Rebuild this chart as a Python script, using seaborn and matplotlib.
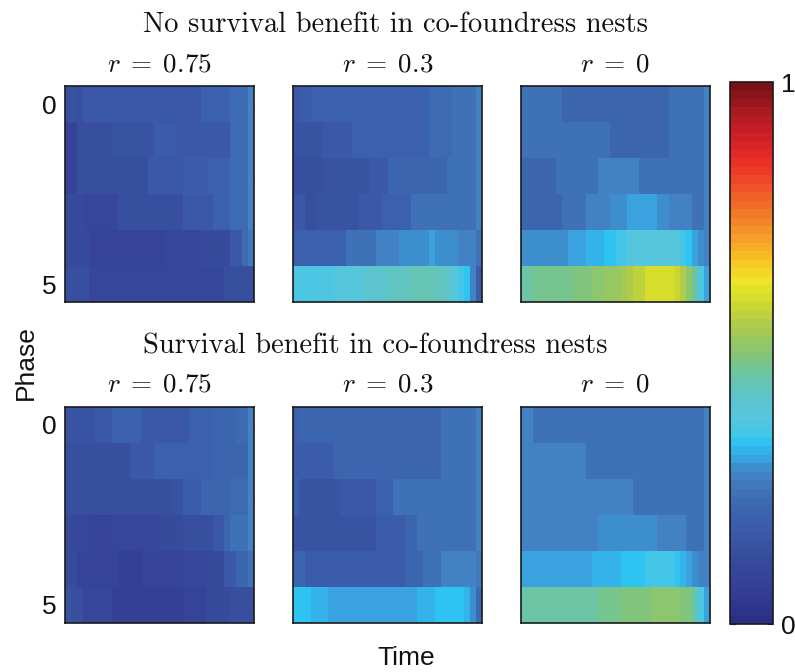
import numpy as np
import matplotlib
matplotlib.use("Agg")
import matplotlib.pyplot as plt
from matplotlib.colors import LinearSegmentedColormap, Normalize
from matplotlib.cm import ScalarMappable
import seaborn as sns

# ---------------------------------------------------------------------------
# Fraction of nests in each phase (rows 0..5) over time (32 time bins)
# ---------------------------------------------------------------------------
relatedness_labels = [r"$r\;=\;0.75$", r"$r\;=\;0.3$", r"$r\;=\;0$"]
scenario_titles = ["No survival benefit in co-foundress nests",
                   "Survival benefit in co-foundress nests"]

no_benefit_r075 = [
    [0.14,0.15,0.14,0.16,0.16,0.16,0.16,0.16,0.16,0.16,0.16,0.17,0.17,0.17,0.17,0.17,0.17,0.17,0.17,0.17,0.17,0.17,0.17,0.19,0.19,0.19,0.19,0.19,0.23,0.23,0.23,0.28],
    [0.09,0.09,0.13,0.13,0.13,0.13,0.13,0.13,0.15,0.15,0.15,0.15,0.15,0.15,0.15,0.18,0.18,0.18,0.18,0.16,0.16,0.16,0.17,0.17,0.17,0.17,0.17,0.17,0.23,0.23,0.23,0.27],
    [0.09,0.09,0.13,0.13,0.13,0.13,0.13,0.13,0.13,0.13,0.14,0.14,0.14,0.14,0.16,0.16,0.16,0.16,0.16,0.16,0.18,0.18,0.18,0.18,0.19,0.19,0.19,0.19,0.22,0.22,0.22,0.27],
    [0.11,0.11,0.11,0.10,0.10,0.10,0.10,0.10,0.10,0.13,0.13,0.13,0.13,0.13,0.13,0.13,0.14,0.14,0.14,0.14,0.16,0.16,0.16,0.16,0.16,0.19,0.19,0.19,0.22,0.22,0.22,0.27],
    [0.11,0.11,0.11,0.11,0.09,0.09,0.09,0.09,0.09,0.09,0.09,0.09,0.09,0.09,0.09,0.09,0.09,0.10,0.10,0.10,0.10,0.10,0.10,0.12,0.12,0.12,0.12,0.12,0.17,0.17,0.22,0.26],
    [0.13,0.13,0.13,0.13,0.10,0.10,0.10,0.10,0.10,0.10,0.10,0.10,0.10,0.10,0.10,0.10,0.10,0.10,0.10,0.10,0.10,0.10,0.10,0.10,0.10,0.10,0.10,0.14,0.14,0.14,0.14,0.14],
]

no_benefit_r03 = [
    [0.17,0.18,0.18,0.19,0.19,0.19,0.19,0.19,0.19,0.19,0.19,0.19,0.19,0.19,0.19,0.19,0.19,0.19,0.19,0.19,0.19,0.19,0.19,0.22,0.22,0.22,0.22,0.24,0.24,0.24,0.24,0.27],
    [0.15,0.15,0.15,0.15,0.15,0.17,0.17,0.17,0.17,0.17,0.19,0.19,0.19,0.19,0.19,0.19,0.19,0.19,0.19,0.19,0.19,0.19,0.19,0.22,0.22,0.22,0.22,0.24,0.24,0.24,0.24,0.27],
    [0.14,0.14,0.14,0.14,0.14,0.15,0.15,0.15,0.15,0.15,0.15,0.15,0.15,0.17,0.17,0.17,0.21,0.21,0.21,0.21,0.21,0.21,0.21,0.21,0.21,0.21,0.24,0.24,0.24,0.24,0.24,0.27],
    [0.16,0.16,0.14,0.14,0.15,0.15,0.15,0.15,0.15,0.15,0.15,0.17,0.17,0.17,0.17,0.20,0.20,0.20,0.20,0.20,0.24,0.24,0.24,0.24,0.24,0.24,0.24,0.24,0.24,0.24,0.24,0.27],
    [0.20,0.20,0.20,0.20,0.20,0.20,0.20,0.20,0.20,0.24,0.24,0.24,0.24,0.24,0.27,0.27,0.27,0.27,0.29,0.29,0.29,0.29,0.29,0.305,0.29,0.29,0.29,0.29,0.27,0.27,0.27,0.24],
    [0.37,0.37,0.37,0.37,0.37,0.37,0.37,0.39,0.39,0.39,0.39,0.39,0.41,0.41,0.41,0.41,0.43,0.43,0.43,0.43,0.45,0.45,0.45,0.45,0.43,0.43,0.41,0.38,0.355,0.335,0.28,0.18],
]

no_benefit_r0 = [
    [0.24,0.24,0.24,0.24,0.24,0.24,0.24,0.21,0.21,0.21,0.21,0.21,0.21,0.21,0.21,0.21,0.21,0.21,0.21,0.21,0.21,0.21,0.21,0.21,0.21,0.24,0.24,0.24,0.24,0.24,0.24,0.27],
    [0.235,0.235,0.235,0.235,0.235,0.235,0.235,0.235,0.235,0.235,0.235,0.235,0.235,0.235,0.235,0.21,0.21,0.21,0.21,0.21,0.21,0.21,0.21,0.21,0.21,0.24,0.24,0.24,0.24,0.24,0.24,0.27],
    [0.215,0.215,0.215,0.215,0.215,0.215,0.235,0.235,0.235,0.235,0.235,0.235,0.235,0.27,0.27,0.27,0.27,0.27,0.27,0.27,0.235,0.235,0.235,0.235,0.235,0.235,0.235,0.235,0.235,0.235,0.235,0.27],
    [0.215,0.215,0.215,0.215,0.215,0.215,0.215,0.235,0.235,0.235,0.235,0.27,0.27,0.27,0.27,0.285,0.285,0.285,0.305,0.305,0.305,0.305,0.305,0.285,0.285,0.27,0.27,0.27,0.27,0.235,0.235,0.27],
    [0.285,0.285,0.285,0.285,0.285,0.285,0.285,0.285,0.305,0.305,0.305,0.318,0.318,0.318,0.335,0.335,0.355,0.355,0.38,0.38,0.38,0.38,0.38,0.38,0.38,0.38,0.38,0.355,0.335,0.305,0.285,0.27],
    [0.46,0.465,0.47,0.47,0.47,0.47,0.48,0.48,0.48,0.49,0.49,0.49,0.50,0.50,0.52,0.52,0.53,0.545,0.555,0.565,0.575,0.60,0.60,0.60,0.60,0.60,0.58,0.55,0.50,0.46,0.36,0.30],
]

benefit_r075 = [
    [0.15,0.15,0.15,0.15,0.15,0.16,0.16,0.16,0.19,0.19,0.19,0.19,0.19,0.17,0.17,0.17,0.17,0.17,0.17,0.17,0.17,0.19,0.19,0.19,0.19,0.21,0.21,0.21,0.21,0.23,0.23,0.28],
    [0.13,0.13,0.13,0.13,0.13,0.14,0.14,0.14,0.14,0.14,0.14,0.16,0.16,0.16,0.16,0.195,0.195,0.195,0.195,0.195,0.195,0.195,0.195,0.195,0.195,0.215,0.215,0.215,0.215,0.215,0.215,0.27],
    [0.13,0.13,0.13,0.13,0.13,0.13,0.13,0.13,0.13,0.13,0.13,0.13,0.13,0.14,0.14,0.14,0.14,0.14,0.155,0.155,0.175,0.175,0.175,0.205,0.205,0.205,0.205,0.205,0.23,0.23,0.23,0.27],
    [0.12,0.095,0.095,0.095,0.085,0.085,0.085,0.085,0.10,0.10,0.10,0.10,0.10,0.10,0.10,0.10,0.11,0.11,0.11,0.11,0.14,0.14,0.14,0.14,0.14,0.165,0.165,0.205,0.24,0.24,0.24,0.27],
    [0.11,0.11,0.09,0.09,0.09,0.09,0.09,0.09,0.09,0.07,0.07,0.07,0.07,0.09,0.09,0.09,0.09,0.09,0.09,0.09,0.10,0.10,0.10,0.10,0.115,0.115,0.115,0.16,0.16,0.21,0.21,0.24],
    [0.15,0.13,0.13,0.10,0.10,0.10,0.10,0.10,0.07,0.07,0.07,0.07,0.07,0.07,0.07,0.07,0.07,0.07,0.07,0.07,0.09,0.09,0.09,0.09,0.11,0.11,0.11,0.11,0.14,0.14,0.14,0.14],
]

benefit_r03 = [
    [0.19,0.21,0.21,0.21,0.21,0.21,0.21,0.21,0.21,0.21,0.21,0.21,0.21,0.21,0.21,0.21,0.21,0.21,0.21,0.21,0.21,0.21,0.21,0.21,0.21,0.24,0.24,0.24,0.24,0.24,0.24,0.27],
    [0.18,0.18,0.18,0.18,0.18,0.18,0.18,0.21,0.21,0.21,0.21,0.21,0.21,0.21,0.21,0.21,0.21,0.21,0.21,0.21,0.21,0.21,0.21,0.21,0.21,0.24,0.24,0.24,0.24,0.24,0.24,0.27],
    [0.19,0.15,0.15,0.15,0.15,0.15,0.15,0.15,0.17,0.17,0.17,0.17,0.17,0.17,0.195,0.195,0.195,0.24,0.24,0.24,0.24,0.24,0.24,0.24,0.24,0.24,0.24,0.24,0.24,0.24,0.24,0.27],
    [0.15,0.15,0.15,0.15,0.15,0.15,0.15,0.15,0.15,0.15,0.15,0.15,0.15,0.15,0.175,0.175,0.175,0.175,0.175,0.205,0.205,0.235,0.235,0.235,0.235,0.235,0.235,0.235,0.235,0.235,0.235,0.27],
    [0.205,0.205,0.175,0.175,0.175,0.175,0.175,0.175,0.175,0.175,0.175,0.175,0.175,0.175,0.175,0.175,0.175,0.175,0.175,0.21,0.21,0.21,0.24,0.24,0.24,0.27,0.27,0.27,0.27,0.27,0.27,0.25],
    [0.34,0.335,0.335,0.318,0.318,0.318,0.305,0.305,0.305,0.305,0.305,0.305,0.305,0.305,0.305,0.305,0.305,0.305,0.305,0.305,0.305,0.318,0.318,0.318,0.335,0.335,0.335,0.335,0.335,0.318,0.29,0.22],
]

benefit_r0 = [
    [0.27,0.27,0.235,0.235,0.235,0.235,0.235,0.235,0.235,0.235,0.235,0.235,0.235,0.235,0.235,0.235,0.235,0.235,0.235,0.235,0.235,0.235,0.235,0.235,0.235,0.235,0.235,0.235,0.235,0.235,0.235,0.27],
    [0.27,0.27,0.27,0.27,0.27,0.27,0.27,0.27,0.27,0.27,0.27,0.235,0.235,0.235,0.235,0.235,0.235,0.235,0.235,0.235,0.235,0.235,0.235,0.235,0.235,0.235,0.235,0.235,0.235,0.235,0.235,0.27],
    [0.27,0.27,0.27,0.27,0.27,0.27,0.27,0.27,0.27,0.27,0.27,0.27,0.27,0.27,0.27,0.27,0.27,0.27,0.27,0.235,0.235,0.235,0.235,0.235,0.235,0.235,0.235,0.235,0.235,0.235,0.235,0.27],
    [0.27,0.27,0.27,0.27,0.27,0.27,0.27,0.27,0.27,0.27,0.27,0.27,0.27,0.285,0.285,0.285,0.285,0.285,0.285,0.285,0.285,0.285,0.285,0.27,0.27,0.27,0.27,0.27,0.235,0.235,0.235,0.27],
    [0.305,0.305,0.305,0.305,0.305,0.305,0.305,0.305,0.305,0.305,0.305,0.305,0.318,0.318,0.318,0.318,0.318,0.335,0.335,0.335,0.335,0.355,0.355,0.355,0.355,0.355,0.34,0.318,0.305,0.285,0.27,0.27],
    [0.465,0.465,0.465,0.465,0.465,0.465,0.465,0.465,0.465,0.465,0.465,0.465,0.465,0.47,0.47,0.47,0.47,0.485,0.485,0.485,0.495,0.495,0.515,0.515,0.515,0.515,0.515,0.49,0.49,0.45,0.37,0.31],
]

panels = [[no_benefit_r075, no_benefit_r03, no_benefit_r0],
          [benefit_r075, benefit_r03, benefit_r0]]

# ---------------------------------------------------------------------------
# 64-level colour map, dark blue (0) through cyan, green, yellow to dark red (1)
# ---------------------------------------------------------------------------
cmap_nodes = [
    (0.000, "#2c2e86"), (0.050, "#333d93"), (0.090, "#36459a"),
    (0.130, "#3850a0"), (0.160, "#3a58a7"), (0.190, "#3b60ad"),
    (0.215, "#3c68b1"), (0.240, "#3f72b8"), (0.268, "#4380c2"),
    (0.286, "#3c8ecd"), (0.302, "#3aa3de"), (0.318, "#33b4ea"),
    (0.333, "#2ec4f1"), (0.349, "#43c6e8"), (0.381, "#55c6dc"),
    (0.420, "#5ec4c8"), (0.460, "#6bc4a4"), (0.490, "#80c57e"),
    (0.520, "#94c663"), (0.555, "#b0cc4a"), (0.600, "#d4dc2a"),
    (0.635, "#eee52a"), (0.670, "#f9c624"), (0.710, "#f7a32a"),
    (0.750, "#f4812a"), (0.800, "#ef5b29"), (0.850, "#ec3327"),
    (0.900, "#d42027"), (0.950, "#aa1b22"), (1.000, "#7a1115"),
]
cmap = LinearSegmentedColormap.from_list("phase_map", cmap_nodes, N=64)

sns.set_theme(style="white")
plt.rcParams["font.family"] = ["Liberation Sans", "DejaVu Sans"]
plt.rcParams["mathtext.fontset"] = "cm"

W, H = 795, 672
fig = plt.figure(figsize=(W / 100, H / 100), dpi=100)
fig.patch.set_facecolor("white")


def px_axes(x0, y0, w, h):
    return fig.add_axes([x0 / W, 1 - (y0 + h) / H, w / W, h / H])


col_left = [65, 293, 521]
row_top = [86, 407]
panel_w, panel_h = 189, 216
edge = "#1a1a1a"

for i, row_panels in enumerate(panels):
    for j, values in enumerate(row_panels):
        ax = px_axes(col_left[j], row_top[i], panel_w, panel_h)
        grid = np.array(values)
        sns.heatmap(grid, ax=ax, cmap=cmap, vmin=0, vmax=1, cbar=False,
                    xticklabels=False, yticklabels=False)
        for s in ax.spines.values():
            s.set_visible(True)
            s.set_color(edge)
            s.set_linewidth(1.2)
        ax.set_xticks([grid.shape[1] - 0.8])
        ax.set_xticklabels([""])
        if j == 0:
            ax.set_yticks([0.5, 2.5, 5.5])
            ax.set_yticklabels(["0", "", "5"], fontsize=19, color="#111111")
            ax.tick_params(axis="y", direction="in", left=True, right=True,
                           length=3, width=0.8, color=edge, pad=6)
        else:
            ax.set_yticks([])
        ax.tick_params(axis="x", direction="in", bottom=True, top=True,
                       length=3, width=0.8, color=edge)
        ax.set_xlabel("")
        ax.set_ylabel("")

# Titles of the two scenarios and the relatedness labels
title_left = 143
title_base = [32, 353]
label_base = [71, 392]
for i in range(2):
    fig.text(title_left / W, 1 - title_base[i] / H, scenario_titles[i],
             family="cmr10", fontsize=20.5, ha="left", va="baseline",
             color="#111111")
    for j in range(3):
        cx = col_left[j] + panel_w / 2
        fig.text(cx / W, 1 - label_base[i] / H, relatedness_labels[j],
                 fontsize=19.5, ha="center", va="baseline", color="#111111")

fig.text(26 / W, 1 - 363 / H, "Phase", rotation=90, fontsize=19,
         ha="center", va="center", color="#111111")
fig.text(406 / W, 1 - 658 / H, "Time", fontsize=19,
         ha="center", va="center", color="#111111")

# Colour bar
cax = px_axes(730, 82, 43, 542)
sm = ScalarMappable(norm=Normalize(0, 1), cmap=cmap)
cb = fig.colorbar(sm, cax=cax)
cb.set_ticks([0, 0.25, 0.5, 0.75, 1])
cb.set_ticklabels(["0", "", "", "", "1"])
cb.outline.set_edgecolor(edge)
cb.outline.set_linewidth(1.2)
cax.tick_params(direction="in", left=True, right=True, length=4, width=0.8,
                color=edge, labelsize=19, labelcolor="#111111", pad=6)

fig.savefig("out.png", dpi=100, facecolor="white")
